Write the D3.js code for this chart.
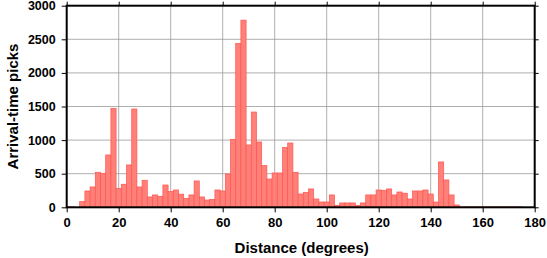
<!DOCTYPE html>
<html>
<head>
<meta charset="utf-8">
<script src="https://cdn.jsdelivr.net/npm/d3@7"></script>
<style>
body { margin: 0; background: #fff; }
svg { display: block; }
text { font-family: "Liberation Sans", Arial, Helvetica, sans-serif; font-weight: bold; }
</style>
</head>
<body>
<svg id="chart" width="547" height="258"></svg>
<script>
// Bin centres (degrees), bin width 2 degrees
const binCenters = d3.range(0, 182, 2);
const binWidth = 2;
// Counts per bin
const counts = [
  6, 6, 0, 85, 243, 303, 521, 506, 779, 1473,      // 0..18
  283, 343, 630, 1463, 303, 402, 154, 184, 164, 332, // 20..38
  236, 258, 196, 134, 184, 392, 154, 109, 119, 258,  // 40..58
  243, 496, 1012, 2438, 2785, 928, 1418, 972, 620, 421, // 60..78
  511, 511, 888, 957, 521, 198, 223, 273, 124, 79,   // 80..98
  79, 184, 30, 65, 65, 65, 30, 65, 184, 184,         // 100..118
  258, 253, 273, 184, 228, 210, 124, 243, 243, 258,  // 120..138
  198, 79, 675, 407, 184, 35, 6, 6, 6, 6,            // 140..158
  6, 6, 6, 6, 6, 6, 6, 6, 0, 0,                      // 160..178
  0                                                  // 180
];
const xTicks = [0, 20, 40, 60, 80, 100, 120, 140, 160, 180];
const yTicks = [0, 500, 1000, 1500, 2000, 2500, 3000];
const xTitle = "Distance (degrees)";
const yTitle = "Arrival-time picks";

const svg = d3.select("#chart");
const L = 66.7, R = 534.7, T = 5.7, B = 207.3;
const x = d3.scaleLinear().domain([0, 180]).range([L, R]);
const y = d3.scaleLinear().domain([0, 3000]).range([B, T]);

// grid
const grid = svg.append("g").attr("stroke", "#9a9a9a").attr("stroke-width", 0.8);
grid.selectAll("line.gx").data(xTicks.slice(1, -1)).join("line")
  .attr("x1", d => x(d)).attr("x2", d => x(d)).attr("y1", T).attr("y2", B);
grid.selectAll("line.gy").data(yTicks.slice(1, -1)).join("line")
  .attr("x1", L).attr("x2", R).attr("y1", d => y(d)).attr("y2", d => y(d));

// bars
const data = binCenters.map((c, i) => ({ c, v: counts[i] }));
const defs = svg.append("defs");
defs.append("clipPath").attr("id", "clip").append("rect")
  .attr("x", L).attr("y", T - 2).attr("width", R - L).attr("height", B - T + 2);
svg.append("g").attr("clip-path", "url(#clip)")
  .selectAll("rect").data(data.filter(d => d.v > 0)).join("rect")
  .attr("x", d => x(d.c - binWidth / 2))
  .attr("width", d => x(d.c + binWidth / 2) - x(d.c - binWidth / 2))
  .attr("y", d => y(d.v))
  .attr("height", d => B - y(d.v))
  .attr("fill", "#ff8078")
  .attr("stroke", "#ff5550")
  .attr("stroke-width", 0.7);

// frame
svg.append("rect").attr("x", L).attr("y", T).attr("width", R - L).attr("height", B - T)
  .attr("fill", "none").attr("stroke", "#000").attr("stroke-width", 2);

// axes
const ax = svg.append("g").attr("transform", `translate(0,${B})`)
  .call(d3.axisBottom(x).tickValues(xTicks).tickSize(5).tickPadding(5).tickFormat(d3.format("d")));
const axTop = svg.append("g").attr("transform", `translate(0,${T})`)
  .call(d3.axisTop(x).tickValues(xTicks).tickSize(4).tickFormat(""));
const ay = svg.append("g").attr("transform", `translate(${L},0)`)
  .call(d3.axisLeft(y).tickValues(yTicks).tickSize(5).tickPadding(6).tickFormat(d3.format("d")));
const ayR = svg.append("g").attr("transform", `translate(${R},0)`)
  .call(d3.axisRight(y).tickValues(yTicks).tickSize(4).tickFormat(""));
[ax, axTop, ay, ayR].forEach(g => {
  g.select(".domain").remove();
  g.selectAll(".tick line").attr("stroke", "#000").attr("stroke-width", 1);
  g.selectAll("text").attr("fill", "#000").style("font-size", "13px").style("font-weight", "bold")
    .style("font-family", "'Liberation Sans', Arial, sans-serif");
});
ay.selectAll("text").style("font-size", "12.5px");

svg.append("text").attr("x", (L + R) / 2 + 1).attr("y", 253).attr("text-anchor", "middle")
  .style("font-size", "15px").text(xTitle);
svg.append("text").attr("transform", `translate(18,${(T + B) / 2}) rotate(-90)`)
  .attr("text-anchor", "middle").style("font-size", "15px").text(yTitle);
</script>
</body>
</html>
